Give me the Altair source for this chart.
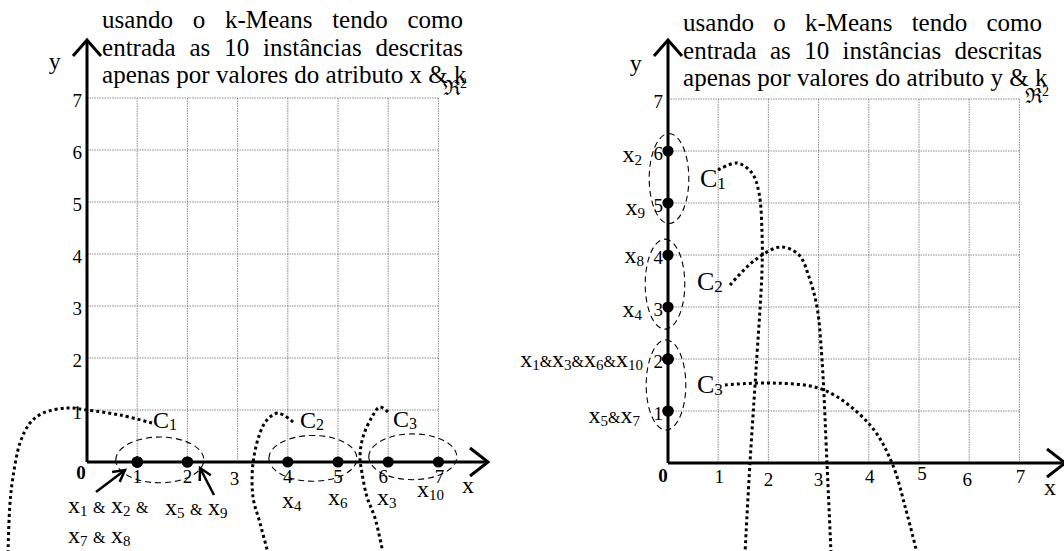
import math
import altair as alt
import pandas as pd

FONT = "Liberation Serif"
PX, PY = 50.2, 52.0            # pixels per unit along x and y
HEIGHT = 551

# ten instances and their two attributes
instances = ["x1", "x2", "x3", "x4", "x5", "x6", "x7", "x8", "x9", "x10"]
attr_x = [1, 1, 6, 4, 2, 5, 1, 1, 2, 7]
attr_y = [2, 6, 2, 3, 1, 2, 1, 4, 5, 2]
ticks = [1, 2, 3, 4, 5, 6, 7]

# clusters found on attribute x: centres of the dashed ellipses
kx_cx = [1.45, 4.5, 6.49]
kx_cy = [0.04, 0.07, 0.1]
# clusters found on attribute y
ky_cx = [0.02, -0.06, -0.04]
ky_cy = [5.47, 3.44, 1.5]

# dotted leaders leaving each cluster name
kx_lead_x = [
    [1.295, 0.657, 0.0, -0.398, -0.876, -1.135, -1.335, -1.474, -1.534, -1.574],
    [4.104, 3.805, 3.586, 3.446, 3.307, 3.307, 3.446, 3.606],
    [5.996, 5.837, 5.677, 5.498, 5.438, 5.478, 5.578, 5.737, 5.896],
]
kx_lead_y = [
    [0.75, 0.904, 1.0, 1.038, 0.942, 0.75, 0.365, -0.288, -0.788, -1.75],
    [0.769, 0.942, 0.808, 0.558, -0.019, -0.673, -1.173, -1.75],
    [0.962, 1.058, 0.865, 0.481, 0.096, -0.212, -0.673, -1.077, -1.75],
]
ky_lead_x = [
    [0.996, 1.375, 1.673, 1.813, 1.873, 1.873, 1.753, 1.633, 1.534],
    [1.235, 1.733, 2.251, 2.610, 2.809, 2.968, 3.068, 3.167, 3.247],
    [1.135, 2.092, 3.108, 4.024, 4.462, 4.741, 4.960],
]
ky_lead_y = [
    [5.635, 5.769, 5.577, 5.192, 4.423, 3.712, 1.788, 0.0, -1.73],
    [3.423, 3.904, 4.154, 4.0, 3.577, 3.0, 1.981, 0.0, -1.73],
    [1.5, 1.538, 1.404, 0.731, 0.0, -0.904, -1.73],
]

# point labels: text, anchor x, baseline y
kx_labels = ["x1 & x2 &", "x7 & x8", "x5 & x9", "x4", "x6", "x3", "x10"]
kx_label_x = [-0.378, -0.378, 1.554, 3.884, 4.801, 5.777, 6.574]
kx_label_y = [-0.981, -1.558, -1.019, -0.885, -0.827, -0.827, -0.673]
ky_labels = ["x2", "x9", "x8", "x4", "x1&x3&x6&x10", "x5&x7"]
ky_label_x = [-0.518, -0.458, -0.478, -0.518, -0.498, -0.558]
ky_label_y = [5.788, 4.769, 3.846, 2.808, 1.846, 0.769]

cluster_names = ["1", "2", "3"]
kx_name_x = [1.315, 4.243, 6.096]
kx_name_y = [0.654, 0.654, 0.673]
ky_name_x = [0.637, 0.578, 0.578]
ky_name_y = [5.308, 3.327, 1.346]

title_lines = ["usando o k-Means tendo como",
               "entrada as 10 instâncias descritas",
               "apenas por valores do atributo {} & k"]

# Times-compatible advance widths (em)
WIDTH = {" ": .25, "-": .333, "&": .778, "M": .889, "C": .667, "â": .444,
         "a": .444, "b": .5, "c": .444, "d": .5, "e": .444, "f": .333, "g": .5,
         "h": .5, "i": .278, "j": .278, "k": .5, "l": .278, "m": .778, "n": .5,
         "o": .5, "p": .5, "q": .5, "r": .333, "s": .389, "t": .278, "u": .5,
         "v": .5, "w": .722, "x": .5, "y": .5, "z": .444}


def text_width(t, size):
    return sum(WIDTH.get(c, .5) for c in t) * size


def rich_rows(parts, x, y, anchor="left"):
    """parts: (text, font size, drop in px). Returns left-aligned fragments."""
    widths = [text_width(t, s) for t, s, _ in parts]
    cur = 0.0 if anchor == "left" else -sum(widths)
    rows = []
    for (t, s, drop), w in zip(parts, widths):
        if t.strip():
            rows.append(dict(x=x + cur / PX, y=y - drop / PY, text=t, size=s))
        cur += w
    return rows


def instance_parts(label):
    parts, i = [], 0
    while i < len(label):
        c = label[i]
        if c.isdigit():
            j = i
            while j < len(label) and label[j].isdigit():
                j += 1
            parts.append((label[i:j], 15, 3))
            i = j
            continue
        if c == "x":
            parts.append(("x", 24, 0))
        elif c == "&":
            parts.append(("&", 16, 0))
        else:
            parts.append((" ", 22, 0))
        i += 1
    return parts


def justified_rows(line, left, right, y, size):
    words = line.split(" ")
    ws = [text_width(w, size) for w in words]
    gap = (right - left) * PX - sum(ws)
    gap /= max(len(words) - 1, 1)
    rows, cur = [], 0.0
    for w, wd in zip(words, ws):
        rows.append(dict(x=left + cur / PX, y=y, text=w, size=size))
        cur += wd + gap
    return rows


def polyline_rows(xs_list, ys_list, prefix):
    rows = []
    for g, (xs, ys) in enumerate(zip(xs_list, ys_list)):
        for i, (a, b) in enumerate(zip(xs, ys)):
            rows.append(dict(g=f"{prefix}{g}", i=i, x=a, y=b))
    return rows


def offset(x, y, dx_px, dy_px):
    return x + dx_px / PX, y - dy_px / PY


def panel(width, ox, oy, horizontal, spec):
    xdom = [-ox / PX, (width - ox) / PX]
    ydom = [-(HEIGHT - oy) / PY, oy / PY]
    sx = alt.Scale(domain=xdom, nice=False, zero=False)
    sy = alt.Scale(domain=ydom, nice=False, zero=False)
    X = alt.X("x:Q", scale=sx, axis=None)
    Y = alt.Y("y:Q", scale=sy, axis=None)
    layers = []

    # dotted grid
    grid = [dict(x=t, y=0, x2=t, y2=7) for t in ticks] + \
           [dict(x=0, y=t, x2=7, y2=t) for t in ticks]
    layers.append(alt.Chart(pd.DataFrame(grid)).mark_rule(
        color="#6e6e6e", strokeWidth=0.8, strokeDash=[1.5, 1]).encode(
        x=X, y=Y, x2="x2:Q", y2="y2:Q"))

    # axes with open arrowheads
    xt, yt = spec["x_tip"], spec["y_tip"]
    axis_rows = polyline_rows([[0, xt], [0, 0]], [[0, 0], [0, yt]], "ax")
    ax1 = offset(xt, 0, -18, -14)
    ax2 = offset(xt, 0, -18, 14)
    ay1 = offset(0, yt, -14, 16)
    ay2 = offset(0, yt, 14, 16)
    axis_rows += polyline_rows([[ax1[0], xt, ax2[0]], [ay1[0], 0, ay2[0]]],
                               [[ax1[1], 0, ax2[1]], [ay1[1], yt, ay2[1]]], "hd")
    pointer_rows = []
    for k, (tx, ty, hx, hy) in enumerate(spec.get("pointers", [])):
        dxp, dyp = (hx - tx) * PX, -(hy - ty) * PY
        ang = math.atan2(dyp, dxp)
        arms = []
        for s in (-1, 1):
            a = ang + math.pi + s * 0.5
            arms.append(offset(hx, hy, 13 * math.cos(a), 13 * math.sin(a)))
        pointer_rows += polyline_rows([[tx, hx], [arms[0][0], hx, arms[1][0]]],
                                      [[ty, hy], [arms[0][1], hy, arms[1][1]]], f"p{k}")
    layers.append(alt.Chart(pd.DataFrame(axis_rows)).mark_line(
        color="black", strokeWidth=3, strokeJoin="miter", clip=True).encode(
        x=X, y=Y, detail="g:N", order="i:Q"))
    if pointer_rows:
        layers.append(alt.Chart(pd.DataFrame(pointer_rows)).mark_line(
            color="black", strokeWidth=2.5).encode(
            x=X, y=Y, detail="g:N", order="i:Q"))

    # dotted leaders
    layers.append(alt.Chart(pd.DataFrame(polyline_rows(spec["lead_x"], spec["lead_y"], "l"))).mark_line(
        color="black", strokeWidth=3, strokeDash=[3, 3], interpolate="catmull-rom",
        clip=True).encode(x=X, y=Y, detail="g:N", order="i:Q"))

    # dashed cluster ellipses
    if horizontal:
        shape, size = "M-1,0A1,0.52 0 1,1 1,0A1,0.52 0 1,1 -1,0Z", 88 ** 2
    else:
        shape, size = "M0,-1A0.44,1 0 1,1 0,1A0.44,1 0 1,1 0,-1Z", 90 ** 2
    ell = pd.DataFrame(dict(x=spec["cx"], y=spec["cy"]))
    layers.append(alt.Chart(ell).mark_point(
        shape=shape, size=size, filled=False, color="black", opacity=1,
        strokeWidth=1.1, strokeDash=[6, 4]).encode(x=X, y=Y))

    # instances
    pts = pd.DataFrame(dict(name=instances,
                            x=attr_x if horizontal else [0] * 10,
                            y=[0] * 10 if horizontal else attr_y))
    layers.append(alt.Chart(pts).mark_circle(size=125, color="black", opacity=1).encode(x=X, y=Y))

    # tick labels
    tick_rows = [dict(x=t + n / PX, y=-(spec["tick_base"] + v) / PY, text=str(t))
                 for t, n, v in zip(ticks, spec["tick_nudge"], spec["tick_drop"])]
    layers.append(alt.Chart(pd.DataFrame(tick_rows)).mark_text(
        font=FONT, fontSize=19, align="center", baseline="middle", color="black").encode(
        x=X, y=Y, text="text:N"))
    ytick_rows = [dict(x=-spec["ytick_gap"] / PX, y=t - 2.5 / PY, text=str(t)) for t in ticks]
    layers.append(alt.Chart(pd.DataFrame(ytick_rows)).mark_text(
        font=FONT, fontSize=19, align="right", baseline="middle", color="black").encode(
        x=X, y=Y, text="text:N"))
    zx, zy = spec["zero"]
    layers.append(alt.Chart(pd.DataFrame([dict(x=zx, y=zy, text="0")])).mark_text(
        font=FONT, fontSize=19, fontWeight="bold", align="center", baseline="middle",
        color="black").encode(x=X, y=Y, text="text:N"))

    # axis names
    names = pd.DataFrame([dict(x=spec["xname"][0], y=spec["xname"][1], text="x"),
                          dict(x=spec["yname"][0], y=spec["yname"][1], text="y")])
    layers.append(alt.Chart(names).mark_text(
        font=FONT, fontSize=24, align="center", baseline="middle", color="black").encode(
        x=X, y=Y, text="text:N"))

    # rich text fragments: title, instance labels, cluster names, R^2
    frag = []
    tl, tr = spec["title_edges"]
    for line, by in zip(title_lines[:2], spec["title_y"][:2]):
        frag += justified_rows(line, tl, tr, by, 25)
    frag.append(dict(x=tl, y=spec["title_y"][2],
                     text=title_lines[2].format(spec["attr"]), size=25))
    anchor = "left" if horizontal else "right"
    for lab, lx, ly in zip(spec["labels"], spec["label_x"], spec["label_y"]):
        frag += rich_rows(instance_parts(lab), lx, ly, anchor)
    cs, ss = spec["c_sizes"]
    for nm, nx, ny in zip(cluster_names, spec["name_x"], spec["name_y"]):
        frag += rich_rows([("C", cs, 0), (nm, ss, 2)], nx, ny)
    rx, ry = spec["re"]
    frag.append(dict(x=rx, y=ry, text="\u211c", size=21))
    frag.append(dict(x=rx + 17 / PX, y=ry + 7 / PY, text="2", size=14))
    layers.append(alt.Chart(pd.DataFrame(frag)).mark_text(
        font=FONT, align="left", baseline="alphabetic", color="black").encode(
        x=X, y=Y, text="text:N", size=alt.Size("size:Q", scale=None)))

    return alt.layer(*layers).properties(width=width, height=HEIGHT)


left = panel(500, 87, 462, True, dict(
    x_tip=(488 - 87) / PX, y_tip=(462 - 40) / PY,
    pointers=[(0.179, -0.577, 0.757, -0.154), (2.530, -0.635, 2.251, -0.115)],
    lead_x=kx_lead_x, lead_y=kx_lead_y, cx=kx_cx, cy=kx_cy,
    tick_base=15, tick_nudge=[0, 0, -3, 0, 0, -5, 1], tick_drop=[0, 0, 2, 0, 0, 0, 0],
    ytick_gap=5, zero=(-0.12, -0.21), xname=(7.59, -0.46), yname=(-0.64, 7.69),
    title_edges=(0.3, 7.49), title_y=[8.346, 7.808, 7.288], attr="x",
    labels=kx_labels, label_x=kx_label_x, label_y=kx_label_y,
    c_sizes=(24, 16), name_x=kx_name_x, name_y=kx_name_y, re=(7.09, 7.06)))

right = panel(564, 168, 463, False, dict(
    x_tip=(1065 - 668) / PX, y_tip=(463 - 40) / PY,
    lead_x=ky_lead_x, lead_y=ky_lead_y, cx=ky_cx, cy=ky_cy,
    tick_base=14, tick_nudge=[1, 0, 0, 1, 3, -2, 1], tick_drop=[0, 3, 3, 0, -3, 3, 0],
    ytick_gap=5, zero=(-0.1, -0.25), xname=(7.61, -0.48), yname=(-0.64, 7.67),
    title_edges=(0.3, 7.45), title_y=[8.308, 7.769, 7.25], attr="y",
    labels=ky_labels, label_x=ky_label_x, label_y=ky_label_y,
    c_sizes=(26, 17), name_x=ky_name_x, name_y=ky_name_y, re=(7.11, 6.92)))

chart = alt.hconcat(left, right, spacing=0).properties(
    padding=0, background="white").configure_view(stroke=None, fill="white")

chart.save("out.html", embed_options={"renderer": "svg", "actions": False})
